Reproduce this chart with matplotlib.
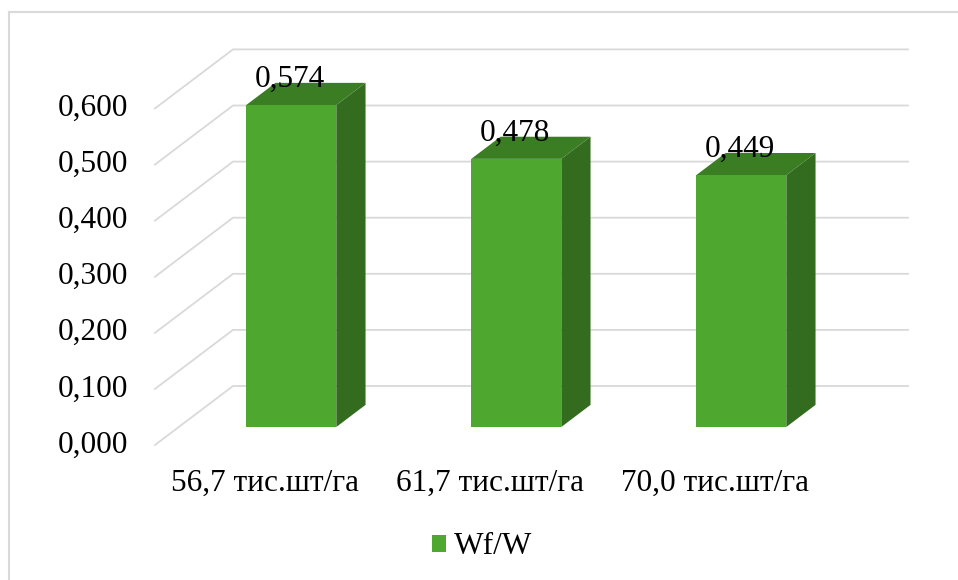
import matplotlib.pyplot as plt
from matplotlib.patches import Patch
from matplotlib.lines import Line2D

categories = ["56,7 тис.шт/га", "61,7 тис.шт/га", "70,0 тис.шт/га"]
values = [0.574, 0.478, 0.449]
tick_values = [0.0, 0.1, 0.2, 0.3, 0.4, 0.5, 0.6]
tick_labels = ["0,000", "0,100", "0,200", "0,300", "0,400", "0,500", "0,600"]
value_labels = ["0,574", "0,478", "0,449"]
series_name = "Wf/W"

FONT = "Liberation Serif"
FS = 22.5
GRID = "#D9D9D9"
FRONT = "#4EA72E"
TOP = "#3A7D22"
SIDE = "#336C1E"

W, H = 958, 580
fig = plt.figure(figsize=(W / 100, H / 100), dpi=100)
ax = fig.add_axes([0, 0, 1, 1])
ax.axis("off")

# pixel scale of the plot: x in category units, y in value units
px_x = 225.0
px_y = 561.0
x0_px, y0_px = 155.0, 445.0
ax.set_xlim(-x0_px / px_x, (W - x0_px) / px_x)
ax.set_ylim(-(H - y0_px) / px_y, y0_px / px_y)

# oblique depth direction
DX = 78 / px_x
DY = 59 / px_y


def proj(x, v, d):
    return x + d * DX, v + d * DY


n = len(categories)

# gridlines: side wall diagonals + back wall lines
for v in tick_values:
    a = proj(0, v, 0)
    b = proj(0, v, 1)
    c = proj(n, v, 1)
    ax.plot([a[0], b[0], c[0]], [a[1], b[1], c[1]], color=GRID, lw=1.3,
            zorder=1, solid_joinstyle="miter")

# bars
hw = 0.2
d0, d1 = 0.305, 0.68
for i, val in enumerate(values):
    xc = i + 0.5
    front = [proj(xc - hw, 0, d0), proj(xc + hw, 0, d0),
             proj(xc + hw, val, d0), proj(xc - hw, val, d0)]
    top = [proj(xc - hw, val, d0), proj(xc + hw, val, d0),
           proj(xc + hw, val, d1), proj(xc - hw, val, d1)]
    side = [proj(xc + hw, 0, d0), proj(xc + hw, 0, d1),
            proj(xc + hw, val, d1), proj(xc + hw, val, d0)]
    for poly, col in [(side, SIDE), (top, TOP), (front, FRONT)]:
        xs, ys = zip(*poly)
        ax.fill(xs, ys, color=col, lw=0, zorder=3)
    fx, fy = proj(xc, val, d0)
    ax.annotate(value_labels[i], (fx, fy), xytext=(-1, 18),
                textcoords="offset pixels", ha="center", va="baseline",
                fontsize=FS, family=FONT, zorder=5)

# value axis labels
for v, lab in zip(tick_values, tick_labels):
    ax.annotate(lab, (0, v), xytext=(-27, 0), textcoords="offset pixels",
                ha="right", va="center", fontsize=FS, family=FONT)

# category labels
for i, lab in enumerate(categories):
    ax.annotate(lab, (i + 0.5, 0), xytext=(-2, -38), textcoords="offset pixels",
                ha="center", va="center", fontsize=FS, family=FONT)

# legend
leg = fig.legend(handles=[Patch(facecolor=FRONT, edgecolor="none", label=series_name)],
                 loc="center", bbox_to_anchor=(482 / W, 1 - 547 / H), frameon=False,
                 prop={"family": FONT, "size": FS}, handlelength=0.45,
                 handleheight=0.45, handletextpad=0.25)

# chart area border
fig.add_artist(Line2D([8.5 / W, 8.5 / W], [0, 1 - 11.5 / H], color=GRID, lw=1.5,
                      transform=fig.transFigure))
fig.add_artist(Line2D([8.5 / W, 1], [1 - 11.5 / H, 1 - 11.5 / H], color=GRID, lw=1.5,
                      transform=fig.transFigure))

fig.savefig("out.png", dpi=100)
